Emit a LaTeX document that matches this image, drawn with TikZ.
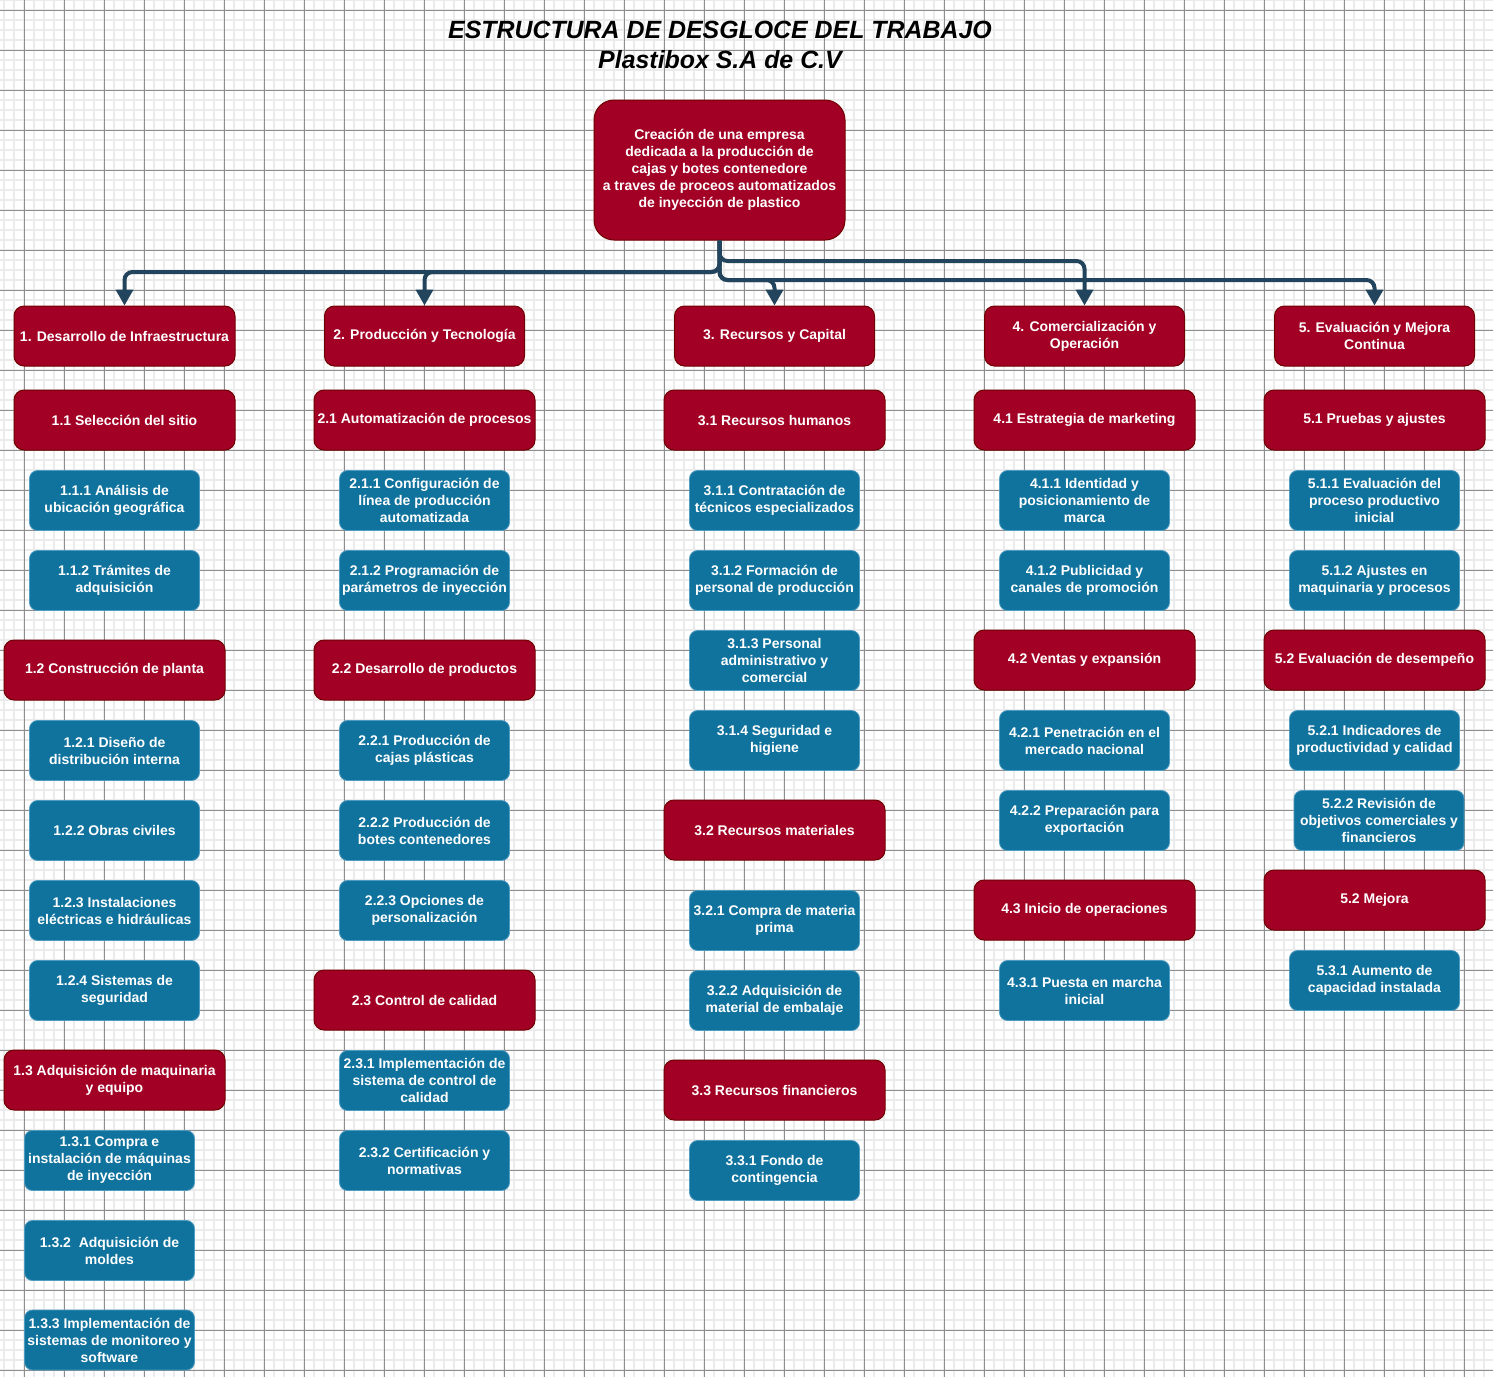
\documentclass[tikz,border=0pt]{standalone}
\usepackage{fontspec}
\setmainfont{Liberation Sans}
\usetikzlibrary{arrows.meta}

\definecolor{wbsred}{HTML}{A20025}
\definecolor{wbsrededge}{HTML}{6F0000}
\definecolor{wbsblue}{HTML}{10739E}
\definecolor{wbsblueedge}{HTML}{4F9CC2}
\definecolor{wbsconn}{HTML}{23445D}
\definecolor{gridminor}{HTML}{EBEBEB}
\definecolor{gridmajor}{HTML}{8E8E8E}

\newcommand\wbsfont{\bfseries\fontsize{7}{8.5}\selectfont}

\tikzset{
  redbox/.style={rectangle, rounded corners=5pt, fill=wbsred, draw=wbsrededge,
    line width=0.5pt, text=white, font=\wbsfont, align=center, inner sep=0pt,
    minimum width=110.5pt, minimum height=30pt},
  topbox/.style={redbox, minimum width=100pt},
  bluebox/.style={rectangle, rounded corners=4pt, fill=wbsblue, draw=wbsblueedge,
    line width=0.4pt, text=white, font=\wbsfont, align=center, inner sep=0pt,
    minimum width=85pt, minimum height=30pt},
  conn/.style={draw=wbsconn, line width=2pt, rounded corners=4pt,
    -{Triangle[width=8.5pt,length=8pt]}},
}

\begin{document}
\begin{tikzpicture}[x=0.5pt, y=-0.5pt]
  \useasboundingbox (0,0) rectangle (1493,1377);
  \fill[white] (0,0) rectangle (1493,1377);

  % background grid
  \begin{scope}
    \clip (0,0) rectangle (1493,1377);
    \foreach \gx in {4,14,...,1494} \draw[gridminor, line width=0.7pt] (\gx,0) -- (\gx,1377);
    \foreach \gy in {0,10,...,1380} \draw[gridminor, line width=0.7pt] (0,\gy) -- (1493,\gy);
    \foreach \gx in {24,64,...,1494} \draw[gridmajor, line width=0.5pt] (\gx,0) -- (\gx,1377);
    \foreach \gy in {10,50,...,1380} \draw[gridmajor, line width=0.5pt] (0,\gy) -- (1493,\gy);
  \end{scope}

  % title
  \node[font=\bfseries\itshape\fontsize{12.45}{15}\selectfont, align=center] (title) at (720,45)
    {ESTRUCTURA DE DESGLOCE DEL TRABAJO\\Plastibox S.A de C.V};

  % root
  \node[redbox, rounded corners=10pt, minimum width=125.5pt, minimum height=70pt] (root) at (719.5,170)
    {Creación de una empresa\\dedicada a la producción de\\cajas y botes contenedore\\a traves de proceos automatizados\\de inyección de plastico};

  % level 1
  \node[topbox, minimum width=110.5pt] (n1) at (124.5,336) {1. Desarrollo de Infraestructura};
  \node[topbox] (n2) at (424.5,336) {2. Producción y Tecnología};
  \node[topbox] (n3) at (774.5,336) {3. Recursos y Capital};
  \node[topbox] (n4) at (1084.5,336) {4. Comercialización y\\Operación};
  \node[topbox] (n5) at (1374.5,336) {5. Evaluación y Mejora\\Continua};

  % column 1
  \node[redbox] (n11) at (124.5,420) {1.1 Selección del sitio};
  \node[bluebox] (n111) at (114.5,500.5) {1.1.1 Análisis de\\ubicación geográfica};
  \node[bluebox] (n112) at (114.5,580.5) {1.1.2 Trámites de\\adquisición};
  \node[redbox] (n12) at (114.5,670) {1.2 Construcción de planta};
  \node[bluebox] (n121) at (114.5,750.5) {1.2.1 Diseño de\\distribución interna};
  \node[bluebox] (n122) at (114.5,830.5) {1.2.2 Obras civiles};
  \node[bluebox] (n123) at (114.5,910.5) {1.2.3 Instalaciones\\eléctricas e hidráulicas};
  \node[bluebox] (n124) at (114.5,990.5) {1.2.4 Sistemas de\\seguridad};
  \node[redbox] (n13) at (114.5,1080) {1.3 Adquisición de maquinaria\\y equipo};
  \node[bluebox] (n131) at (109.5,1160.5) {1.3.1 Compra e\\instalación de máquinas\\de inyección};
  \node[bluebox] (n132) at (109.5,1250.5) {1.3.2\ \ Adquisición de\\moldes};
  \node[bluebox] (n133) at (109.5,1340) {1.3.3 Implementación de\\sistemas de monitoreo y\\software};

  % column 2
  \node[redbox] (n21) at (424.5,420) {2.1 Automatización de procesos};
  \node[bluebox] (n211) at (424.5,500.5) {2.1.1 Configuración de\\línea de producción\\automatizada};
  \node[bluebox] (n212) at (424.5,580.5) {2.1.2 Programación de\\parámetros de inyección};
  \node[redbox] (n22) at (424.5,670) {2.2 Desarrollo de productos};
  \node[bluebox] (n221) at (424.5,750.5) {2.2.1 Producción de\\cajas plásticas};
  \node[bluebox] (n222) at (424.5,830.5) {2.2.2 Producción de\\botes contenedores};
  \node[bluebox] (n223) at (424.5,910.5) {2.2.3 Opciones de\\personalización};
  \node[redbox] (n23) at (424.5,1000) {2.3 Control de calidad};
  \node[bluebox] (n231) at (424.5,1080.5) {2.3.1 Implementación de\\sistema de control de\\calidad};
  \node[bluebox] (n232) at (424.5,1160.5) {2.3.2 Certificación y\\normativas};

  % column 3
  \node[redbox] (n31) at (774.5,420) {3.1 Recursos humanos};
  \node[bluebox] (n311) at (774.5,500.5) {3.1.1 Contratación de\\técnicos especializados};
  \node[bluebox] (n312) at (774.5,580.5) {3.1.2 Formación de\\personal de producción};
  \node[bluebox] (n313) at (774.5,660.5) {3.1.3 Personal\\administrativo y\\comercial};
  \node[bluebox] (n314) at (774.5,740.5) {3.1.4 Seguridad e\\higiene};
  \node[redbox] (n32) at (774.5,830) {3.2 Recursos materiales};
  \node[bluebox] (n321) at (774.5,920.5) {3.2.1 Compra de materia\\prima};
  \node[bluebox] (n322) at (774.5,1000.5) {3.2.2 Adquisición de\\material de embalaje};
  \node[redbox] (n33) at (774.5,1090) {3.3 Recursos financieros};
  \node[bluebox] (n331) at (774.5,1170.5) {3.3.1 Fondo de\\contingencia};

  % column 4
  \node[redbox] (n41) at (1084.5,420) {4.1 Estrategia de marketing};
  \node[bluebox] (n411) at (1084.5,500.5) {4.1.1 Identidad y\\posicionamiento de\\marca};
  \node[bluebox] (n412) at (1084.5,580.5) {4.1.2 Publicidad y\\canales de promoción};
  \node[redbox] (n42) at (1084.5,660) {4.2 Ventas y expansión};
  \node[bluebox] (n421) at (1084.5,740.5) {4.2.1 Penetración en el\\mercado nacional};
  \node[bluebox] (n422) at (1084.5,820.5) {4.2.2 Preparación para\\exportación};
  \node[redbox] (n43) at (1084.5,910) {4.3 Inicio de operaciones};
  \node[bluebox] (n431) at (1084.5,990.5) {4.3.1 Puesta en marcha\\inicial};

  % column 5
  \node[redbox] (n51) at (1374.5,420) {5.1 Pruebas y ajustes};
  \node[bluebox] (n511) at (1374.5,500.5) {5.1.1 Evaluación del\\proceso productivo\\inicial};
  \node[bluebox] (n512) at (1374.5,580.5) {5.1.2 Ajustes en\\maquinaria y procesos};
  \node[redbox] (n52) at (1374.5,660) {5.2 Evaluación de desempeño};
  \node[bluebox] (n521) at (1374.5,740.5) {5.2.1 Indicadores de\\productividad y calidad};
  \node[bluebox] (n522) at (1379,820.5) {5.2.2 Revisión de\\objetivos comerciales y\\financieros};
  \node[redbox] (n53) at (1374.5,900) {5.2 Mejora};
  \node[bluebox] (n531) at (1374.5,980.5) {5.3.1 Aumento de\\capacidad instalada};

  % connectors from the root to the five main branches
  \coordinate (busL) at (719.5,272);
  \coordinate (busM) at (719.5,261);
  \coordinate (busR) at (719.5,280);
  \draw[conn] (root.south) -- (busL) -| (n1.north);
  \draw[conn] (root.south) -- (busL) -| (n2.north);
  \draw[conn] (root.south) -- (busR) -| (n3.north);
  \draw[conn] (root.south) -- (busM) -| (n4.north);
  \draw[conn] (root.south) -- (busR) -| (n5.north);
\end{tikzpicture}
\end{document}
